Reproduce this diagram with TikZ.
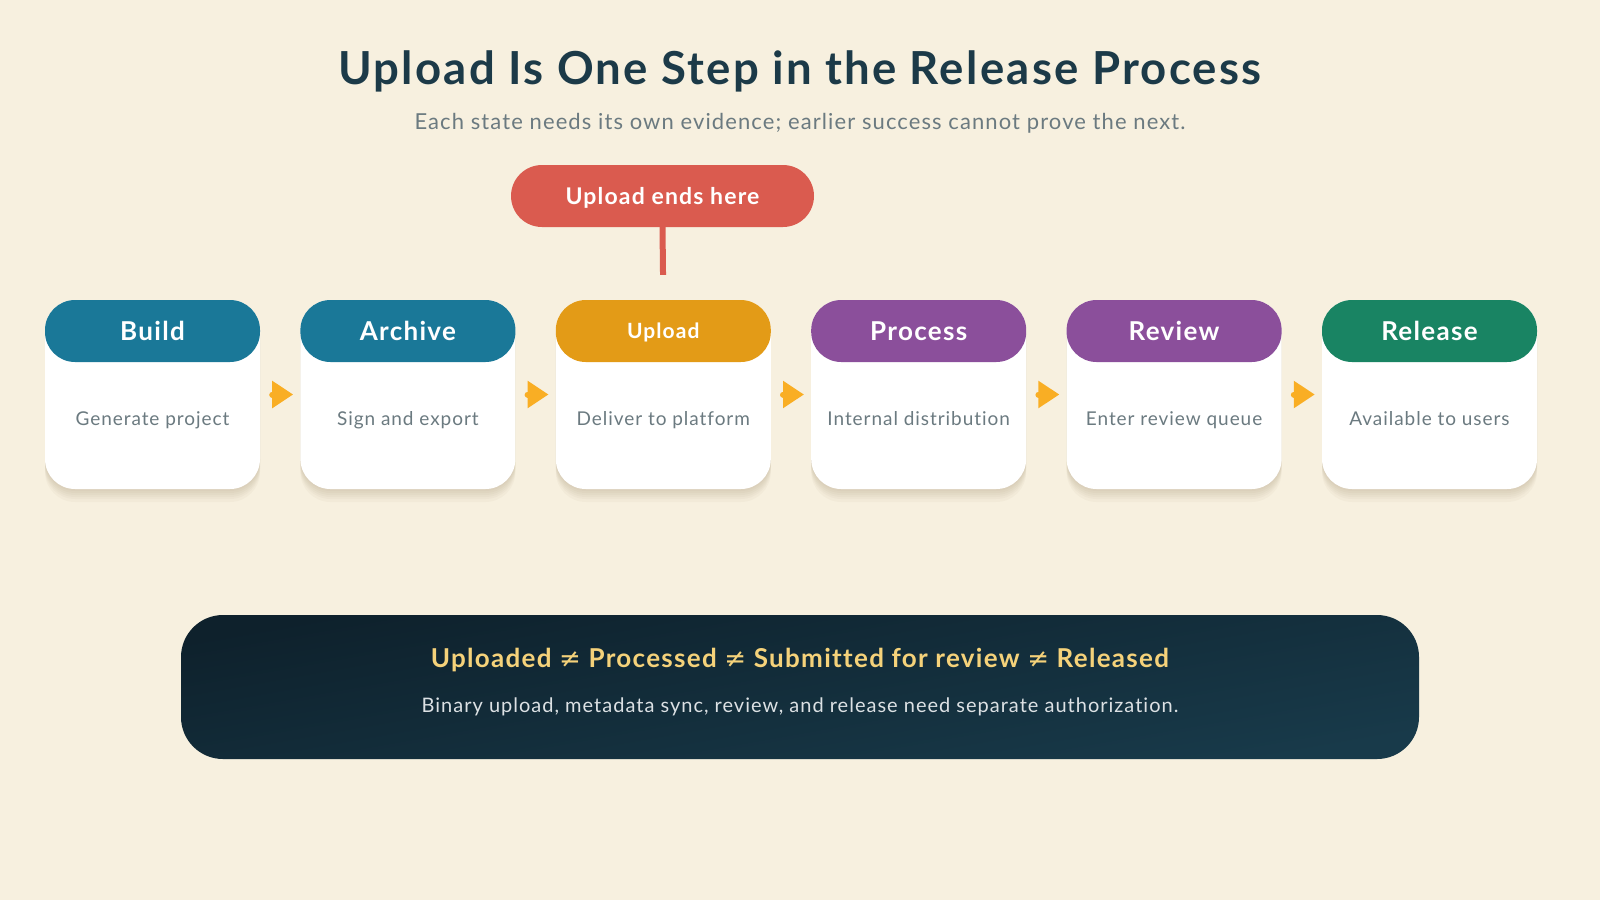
\documentclass[tikz,border=0pt]{standalone}
\usepackage{fontspec}
\setmainfont{Lato}[LetterSpace=5,Ligatures=NoCommon]
\newfontfamily\symfont{DejaVu Sans}
\usepackage{tikz}
\usetikzlibrary{positioning,arrows.meta}

\definecolor{paper}{HTML}{F7F0DF}
\definecolor{ink}{HTML}{1C3A48}
\definecolor{muted}{HTML}{6B7A80}
\definecolor{teal}{HTML}{1A7898}
\definecolor{amber}{HTML}{E39B17}
\definecolor{plum}{HTML}{8B4F9B}
\definecolor{pine}{HTML}{198463}
\definecolor{coral}{HTML}{DA5B4F}
\definecolor{tipcol}{HTML}{F9AE24}
\definecolor{navytop}{HTML}{0E212C}
\definecolor{navybot}{HTML}{183A4A}
\definecolor{gold}{HTML}{F5D27A}
\definecolor{shade}{HTML}{8A7650}

\tikzset{
  soft/.style={preaction={fill=shade,fill opacity=#1,transform canvas={yshift=-2pt}},
    preaction={fill=shade,fill opacity=#1,transform canvas={yshift=-4pt}},
    preaction={fill=shade,fill opacity=#1,transform canvas={yshift=-6pt}},
    preaction={fill=shade,fill opacity=#1,transform canvas={yshift=-8pt}},
    preaction={fill=shade,fill opacity=#1,transform canvas={yshift=-10pt}},
    preaction={fill=shade,fill opacity=#1,transform canvas={yshift=-13pt}}},
  card/.style={fill=white,rounded corners=30pt,minimum width=215pt,minimum height=189pt,
    inner sep=0pt,soft=0.045},
  head/.style={rounded corners=30pt,minimum width=215pt,minimum height=62pt,inner sep=0pt,
    anchor=north,text=white,text height=19pt,text depth=0pt,font=\fontsize{26}{30}\selectfont\bfseries},
  desc/.style={text=muted,text height=14pt,text depth=0pt,font=\fontsize{19}{23}\selectfont},
  flow/.style={draw=tipcol,line width=6pt,line cap=round,shorten <=12pt,shorten >=7pt,
    -{Triangle[length=21pt,width=26pt]}},
  stem/.style={draw=coral,line width=6pt,shorten >=25pt}
}

\begin{document}
\begin{tikzpicture}[x=1pt,y=-1pt]

  \fill [paper] (0,0) rectangle (1600,900);
  \useasboundingbox (0,0) rectangle (1600,900);

  % Title
  \node [text=ink,font=\fontsize{45.5}{52}\selectfont\bfseries] (title) at (800,71)
    {Upload Is One Step in the Release Process};
  \node [text=muted,font=\fontsize{22}{26}\selectfont] (subtitle) at (800,123)
    {Each state needs its own evidence; earlier success cannot prove the next.};

  % Build
  \node [card] (build) at (152.5,394.5) {};
  \node [head,fill=teal] (buildhd) at (build.north) {Build};
  \node [desc,yshift=-23.5pt] (buildtx) at (build.center) {Generate project};

  % Archive
  \node [card,right=40pt of build] (archive) {};
  \node [head,fill=teal] (archivehd) at (archive.north) {Archive};
  \node [desc,yshift=-23.5pt] (archivetx) at (archive.center) {Sign and export};

  % Upload
  \node [card,right=40pt of archive] (upload) {};
  \node [head,fill=amber,text height=15pt,font=\fontsize{21}{26}\selectfont\bfseries] (uploadhd) at (upload.north) {Upload};
  \node [desc,yshift=-23.5pt] (uploadtx) at (upload.center) {Deliver to platform};

  % Process
  \node [card,right=40pt of upload] (process) {};
  \node [head,fill=plum] (processhd) at (process.north) {Process};
  \node [desc,yshift=-23.5pt] (processtx) at (process.center) {Internal distribution};

  % Review
  \node [card,right=40pt of process] (review) {};
  \node [head,fill=plum] (reviewhd) at (review.north) {Review};
  \node [desc,yshift=-23.5pt] (reviewtx) at (review.center) {Enter review queue};

  % Release
  \node [card,right=40pt of review] (release) {};
  \node [head,fill=pine] (releasehd) at (release.north) {Release};
  \node [desc,yshift=-23.5pt] (releasetx) at (release.center) {Available to users};

  % Flow between steps
  \draw [flow] (build) -- (archive);
  \draw [flow] (archive) -- (upload);
  \draw [flow] (upload) -- (process);
  \draw [flow] (process) -- (review);
  \draw [flow] (review) -- (release);

  % Callout
  \node [fill=coral,rounded corners=31pt,minimum width=303pt,minimum height=62pt,
    text=white,text height=16pt,text depth=0pt,font=\fontsize{23}{27}\selectfont\bfseries] (callout) at (662.5,196) {Upload ends here};
  \draw [stem] (callout.south) -- (uploadhd.north);

  % Summary panel
  \node [rounded corners=42pt,minimum width=1238pt,minimum height=144pt,
    top color=navytop,bottom color=navybot,shading angle=10] (note) at (800,687) {};
  \node [text=gold,font=\fontsize{26}{30}\selectfont\bfseries] (notehd) at (800,660)
    {Uploaded {\symfont\mdseries ≠} Processed {\symfont\mdseries ≠} Submitted for review {\symfont\mdseries ≠} Released};
  \node [text=white!85!navybot,font=\fontsize{20}{24}\selectfont] (notetx) at (800,707)
    {Binary upload, metadata sync, review, and release need separate authorization.};

\end{tikzpicture}
\end{document}
